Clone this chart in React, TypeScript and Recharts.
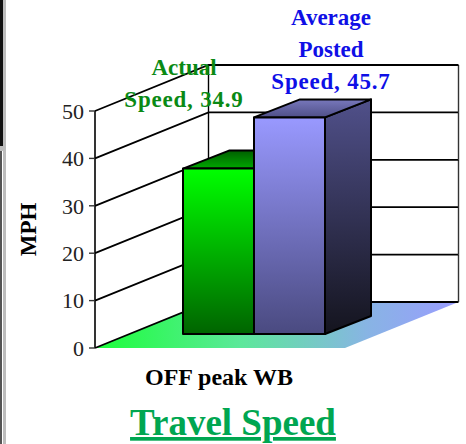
import { Bar, BarChart, CartesianGrid, LabelList, XAxis, YAxis } from 'recharts'

const categories = ['OFF peak WB']
const actualSpeed = [34.9]
const postedSpeed = [45.7]
const yTicks = [0, 10, 20, 30, 40, 50]
const actualLabel = ['Actual', 'Speed,']
const postedLabel = ['Average', 'Posted', 'Speed,']

const data = categories.map((name, i) => ({
  name,
  actual: actualSpeed[i],
  posted: postedSpeed[i],
}))

// oblique projection of the old 3D chart
const WALL_DX = 113.5
const WALL_DY = -46
const BAR_DX = 34
const BAR_DY = -14
const BAR_DEPTH_X = 46
const BAR_DEPTH_Y = -18
const WALL_WIDTH = 250
const TICK_STEP = 47.4
const SERIF = '"Liberation Serif", serif'

function WallLine(props: any) {
  const { x1, y1, x2 } = props
  const bx = x1 + WALL_DX
  const by = y1 + WALL_DY
  const isFloor = Math.abs(y1 - 348) < 1
  return (
    <g>
      {isFloor && (
        <polygon
          points={`${x1},${y1} ${bx},${by} ${bx + WALL_WIDTH},${by} ${x2},${y1}`}
          fill="url(#floorFill)"
        />
      )}
      {!isFloor && <line x1={bx} y1={by} x2={bx} y2={by + TICK_STEP} stroke="#000" strokeWidth={1.4} />}
      {!isFloor && <line x1={bx + WALL_WIDTH} y1={by} x2={bx + WALL_WIDTH} y2={by + TICK_STEP} stroke="#333" strokeWidth={1.4} />}
      <polyline
        points={`${x1},${y1} ${bx},${by} ${bx + WALL_WIDTH},${by}`}
        fill="none"
        stroke="#000"
        strokeWidth={1.8}
      />
    </g>
  )
}

function box(front: string, top: string, side: string) {
  return function Box3D(props: any) {
    const x = props.x + BAR_DX
    const y = props.y + BAR_DY
    const { width, height } = props
    const r = x + width
    const b = y + height
    const dx = BAR_DEPTH_X
    const dy = BAR_DEPTH_Y
    return (
      <g stroke="#000" strokeWidth={2} strokeLinejoin="round">
        <polygon points={`${r},${y} ${r + dx},${y + dy} ${r + dx},${b + dy} ${r},${b}`} fill={`url(#${side})`} />
        <polygon points={`${x},${y} ${x + dx},${y + dy} ${r + dx},${y + dy} ${r},${y}`} fill={`url(#${top})`} />
        <rect x={x} y={y} width={width} height={height} fill={`url(#${front})`} />
      </g>
    )
  }
}

function valueLabel(lines: string[], color: string, cx: number, firstBaseline: number) {
  return function ValueLabel(props: any) {
    return (
      <text fill={color} fontFamily={SERIF} fontWeight="bold" fontSize={23} textAnchor="middle">
        {lines.map((line, i) =>
          i === lines.length - 1 ? (
            <tspan key={line} x={cx} y={firstBaseline + i * 32} letterSpacing={0.8}>
              {`${line} ${props.value}`}
            </tspan>
          ) : (
            <tspan key={line} x={cx} y={firstBaseline + i * 32}>
              {line}
            </tspan>
          ),
        )}
      </text>
    )
  }
}

export default function App() {
  return (
    <div style={{ position: 'absolute', left: 0, top: 0, width: 466, height: 444, background: '#fff', overflow: 'hidden' }}>
      <div style={{ position: 'absolute', left: 0, top: 0, width: 3, height: 146, background: '#111' }} />
      <div style={{ position: 'absolute', left: 0, top: 151, width: 2, height: 293, background: '#555' }} />
      <div style={{ position: 'absolute', left: 3, top: 0, width: 3, height: 444, background: '#bdbdbd' }} />
      <div style={{ position: 'absolute', left: 0, top: 146, width: 3, height: 5, background: '#bdbdbd' }} />
      <BarChart
        width={466}
        height={444}
        data={data}
        barGap={0}
        barSize={71}
        margin={{ top: 111, right: 121, bottom: 56, left: 0 }}
      >
        <defs>
          <linearGradient id="floorFill" x1="0" y1="0" x2="1" y2="0">
            <stop offset="0%" stopColor="#1cff3a" />
            <stop offset="40%" stopColor="#5ce89a" />
            <stop offset="75%" stopColor="#88b4e4" />
            <stop offset="100%" stopColor="#9a9cff" />
          </linearGradient>
          <linearGradient id="greenFront" x1="0" y1="0" x2="0" y2="1">
            <stop offset="0%" stopColor="#00ff00" />
            <stop offset="100%" stopColor="#006400" />
          </linearGradient>
          <linearGradient id="greenTop" x1="0" y1="0" x2="0" y2="1">
            <stop offset="0%" stopColor="#005f00" />
            <stop offset="100%" stopColor="#00a800" />
          </linearGradient>
          <linearGradient id="blueFront" x1="0" y1="0" x2="0" y2="1">
            <stop offset="0%" stopColor="#9999ff" />
            <stop offset="100%" stopColor="#4a4a80" />
          </linearGradient>
          <linearGradient id="blueTop" x1="0" y1="0" x2="0" y2="1">
            <stop offset="0%" stopColor="#7878bc" />
            <stop offset="100%" stopColor="#4f4f88" />
          </linearGradient>
          <linearGradient id="blueSide" x1="0" y1="0" x2="0" y2="1">
            <stop offset="0%" stopColor="#50508a" />
            <stop offset="100%" stopColor="#14141e" />
          </linearGradient>
        </defs>
        <CartesianGrid vertical={false} horizontal={(p: any) => <WallLine key={p.key} {...p} />} />
        <XAxis
          dataKey="name"
          axisLine={false}
          tickLine={false}
          height={40}
          tickMargin={14}
          tick={{ fill: '#000', fontSize: 24, fontWeight: 'bold', fontFamily: SERIF, dx: -1 }}
        />
        <YAxis
          domain={[0, 50]}
          ticks={yTicks}
          width={95}
          interval={0}
          axisLine={{ stroke: '#000', strokeWidth: 1.6 }}
          tickLine={{ stroke: '#333', strokeWidth: 1.4 }}
          tickSize={6}
          tickMargin={5}
          tick={{ fill: '#222', fontSize: 22, fontFamily: SERIF }}
          label={{
            value: 'MPH',
            angle: -90,
            position: 'insideLeft',
            offset: 28,
            style: { fill: '#000', fontSize: 23, fontWeight: 'bold', fontFamily: SERIF, textAnchor: 'middle' },
          }}
        />
        <Bar dataKey="actual" isAnimationActive={false} shape={box('greenFront', 'greenTop', 'greenFront')}>
          <LabelList dataKey="actual" content={valueLabel(actualLabel, '#0a8a14', 184, 75)} />
        </Bar>
        <Bar dataKey="posted" isAnimationActive={false} shape={box('blueFront', 'blueTop', 'blueSide')}>
          <LabelList dataKey="posted" content={valueLabel(postedLabel, '#0f0fe6', 331, 25)} />
        </Bar>
        <text
          x={233}
          y={435}
          textAnchor="middle"
          fill="#00a651"
          fontFamily={SERIF}
          fontWeight="bold"
          fontSize={37}
          textDecoration="underline"
        >
          Travel Speed
        </text>
      </BarChart>
    </div>
  )
}
